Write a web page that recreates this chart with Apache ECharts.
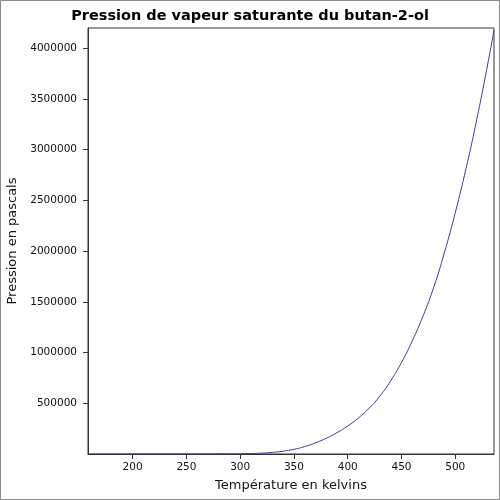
<!DOCTYPE html>
<html>
<head>
<meta charset="utf-8">
<script src="https://cdn.jsdelivr.net/npm/echarts@6/dist/echarts.min.js"></script>
<style>html,body{margin:0;padding:0;background:#fff}#c{width:500px;height:500px}</style>
</head>
<body>
<div id="c"></div>
<script>
const titleText = "Pression de vapeur saturante du butan-2-ol";
const xName = "Température en kelvins";
const yName = "Pression en pascals";
const temperatures = [158.5, 180, 200, 220, 240, 260, 280, 290, 300, 310, 320, 330, 340, 350, 360, 370, 380, 390, 400, 410, 420, 430, 440, 450, 460, 470, 480, 490, 500, 510, 520, 530, 536];
const pressures = [0, 0, 0, 5, 20, 100, 500, 1000, 2200, 4500, 8500, 16000, 28000, 46000, 73000, 110000, 155000, 210000, 276000, 356000, 453000, 573000, 723000, 903000, 1115000, 1360000, 1645000, 1990000, 2380000, 2815000, 3300000, 3835000, 4180000];
const xTicks = [200, 250, 300, 350, 400, 450, 500];
const yTicks = [500000, 1000000, 1500000, 2000000, 2500000, 3000000, 3500000, 4000000];
const xRange = [158.5, 536];
const yRange = [0, 4200000];

const font = "'DejaVu Sans', sans-serif";
const chart = echarts.init(document.getElementById('c'), null, {renderer: 'canvas'});
chart.setOption({
  animation: false,
  backgroundColor: '#fff',
  title: {
    text: titleText, left: 'center', top: 4,
    textStyle: {fontFamily: font, fontSize: 14.5, fontWeight: 'bold', color: '#000'}
  },
  graphic: [{
    type: 'rect', silent: true, z: 100,
    shape: {x: 0.5, y: 0.5, width: 499, height: 499},
    style: {fill: 'none', stroke: '#888', lineWidth: 1}
  }],
  grid: {left: 88, right: 6, top: 28, bottom: 46, outerBoundsMode: 'none', containLabel: false, show: true, borderColor: '#333', borderWidth: 1, backgroundColor: '#fff'},
  xAxis: {
    type: 'value', min: xRange[0], max: xRange[1],
    name: xName, nameLocation: 'middle', nameGap: 25,
    nameTextStyle: {fontFamily: font, fontSize: 13, color: '#111'},
    axisLine: {show: true, lineStyle: {color: '#333', width: 1}},
    axisTick: {show: true, inside: false, length: 5, customValues: xTicks, lineStyle: {color: '#333'}},
    axisLabel: {customValues: xTicks, margin: 8, fontFamily: font, fontSize: 10.5, color: '#111', formatter: v => String(v)},
    splitLine: {show: false}
  },
  yAxis: {
    type: 'value', min: yRange[0], max: yRange[1],
    name: yName, nameLocation: 'middle', nameGap: 68,
    nameTextStyle: {fontFamily: font, fontSize: 13, color: '#111'},
    axisLine: {show: true, lineStyle: {color: '#333', width: 1}},
    axisTick: {show: true, inside: false, length: 5, customValues: yTicks, lineStyle: {color: '#333'}},
    axisLabel: {customValues: yTicks, margin: 11, fontFamily: font, fontSize: 10.5, color: '#111', formatter: v => String(v)},
    splitLine: {show: false}
  },
  series: [{
    type: 'line',
    data: temperatures.map((t, i) => [t, pressures[i]]),
    showSymbol: false,
    smooth: true,
    lineStyle: {color: '#3a3a9c', width: 1},
    clip: true
  }]
});
</script>
</body>
</html>
